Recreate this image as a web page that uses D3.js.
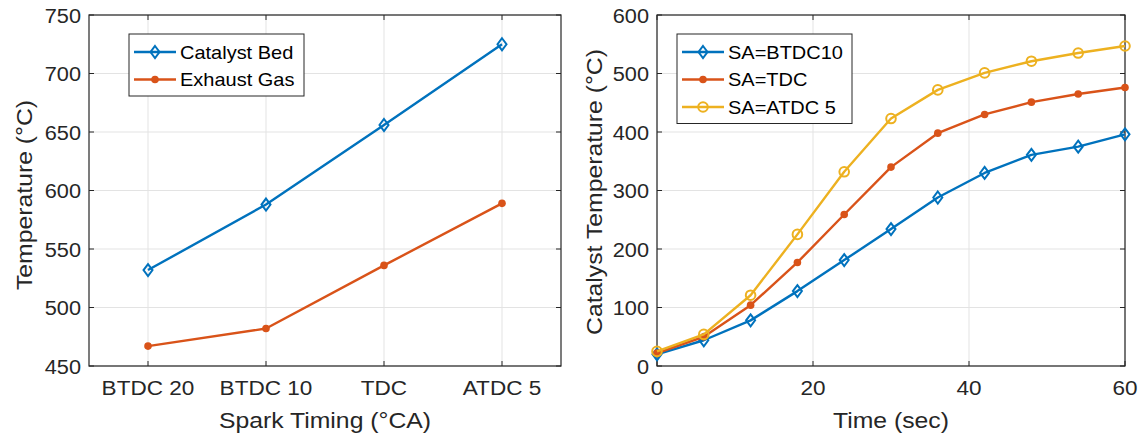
<!DOCTYPE html>
<html>
<head>
<meta charset="utf-8">
<script src="https://cdn.jsdelivr.net/npm/d3@7"></script>
<style>
  body { margin: 0; background: #fff; }
  svg { font-family: "Liberation Sans", Arial, sans-serif; }
</style>
</head>
<body>
<svg width="1147" height="439"></svg>
<script>
// left chart data
var timings = ["BTDC 20", "BTDC 10", "TDC", "ATDC 5"];
var catalystBed = [532, 588, 656, 725];
var exhaustGas = [467, 482, 536, 589];
var leftTicks = [450, 500, 550, 600, 650, 700, 750];

// right chart data
var times = [0, 6, 12, 18, 24, 30, 36, 42, 48, 54, 60];
var saBTDC10 = [20, 44, 78, 128, 181, 234, 288, 330, 361, 375, 396];
var saTDC = [22, 50, 104, 177, 259, 340, 398, 430, 451, 465, 476];
var saATDC5 = [25, 54, 121, 225, 332, 423, 472, 501, 521, 535, 547];
var rightYTicks = [0, 100, 200, 300, 400, 500, 600];
var rightXTicks = [0, 20, 40, 60];

var BLUE = "#0072BD", ORANGE = "#D95319", YELLOW = "#EDB120";
var LW = 2.4;
var svg = d3.select("svg");

// the picture's text is a bit wider than Liberation Sans, stretch it a little
function stretch(sel, k) {
    sel.each(function () {
        var w = this.getComputedTextLength();
        d3.select(this).attr("textLength", w * k).attr("lengthAdjust", "spacingAndGlyphs");
    });
    return sel;
}

function marker(g, type, color) {
    if (type == "diamond")
        g.append("path").attr("d", "M0,-6L4.5,0L0,6L-4.5,0Z")
            .attr("fill", "none").attr("stroke", color).attr("stroke-width", 2);
    else if (type == "dot") g.append("circle").attr("r", 3.8).attr("fill", color);
    else g.append("circle").attr("r", 4.8).attr("fill", "none").attr("stroke", color).attr("stroke-width", 2);
}

function frame(x0, x1, y0, y1, xScale, xTicks, yScale, yTicks, xLabelFn) {
    var g = svg.append("g");
    // grid
    g.selectAll(".gx").data(xTicks).enter().append("line")
        .attr("x1", xScale).attr("x2", xScale).attr("y1", y0).attr("y2", y1)
        .attr("stroke", "#e3e3e3").attr("stroke-width", 1);
    g.selectAll(".gy").data(yTicks).enter().append("line")
        .attr("y1", yScale).attr("y2", yScale).attr("x1", x0).attr("x2", x1)
        .attr("stroke", "#e3e3e3").attr("stroke-width", 1);
    // ticks inside, both sides
    g.selectAll(".tx").data(xTicks).enter().append("path")
        .attr("d", function (d) { var x = xScale(d); return "M" + x + "," + y1 + "v-5M" + x + "," + y0 + "v5"; })
        .attr("stroke", "#262626");
    g.selectAll(".ty").data(yTicks).enter().append("path")
        .attr("d", function (d) { var y = yScale(d); return "M" + x0 + "," + y + "h5M" + x1 + "," + y + "h-5"; })
        .attr("stroke", "#262626");
    g.append("rect").attr("x", x0).attr("y", y0).attr("width", x1 - x0).attr("height", y1 - y0)
        .attr("fill", "none").attr("stroke", "#262626").attr("stroke-width", 1.2);
    // tick labels
    stretch(g.selectAll(".lx").data(xTicks).enter().append("text")
        .attr("x", xScale).attr("y", y1 + 29).attr("text-anchor", "middle")
        .attr("font-size", 20.5).attr("fill", "#262626").text(xLabelFn), 1.1);
    stretch(g.selectAll(".ly").data(yTicks).enter().append("text")
        .attr("x", x0 - 8).attr("y", function (d) { return yScale(d) + 7.5; }).attr("text-anchor", "end")
        .attr("font-size", 20.5).attr("fill", "#262626").text(function (d) { return d; }), 1.06);
    return g;
}

function series(g, xScale, yScale, xs, ys, color, type) {
    var pts = xs.map(function (x, i) { return [xScale(x), yScale(ys[i])]; });
    g.append("path").attr("d", d3.line()(pts)).attr("fill", "none")
        .attr("stroke", color).attr("stroke-width", LW).attr("stroke-linejoin", "round");
    pts.forEach(function (p) {
        marker(g.append("g").attr("transform", "translate(" + p[0] + "," + p[1] + ")"), type, color);
    });
}

function legend(x, y, w, rows) {
    var g = svg.append("g").attr("transform", "translate(" + x + "," + y + ")");
    g.append("rect").attr("width", w).attr("height", rows.length * 27.5 + 7)
        .attr("fill", "#fff").attr("stroke", "#262626").attr("stroke-width", 1);
    rows.forEach(function (r, i) {
        var cy = 18 + i * 27.5;
        g.append("line").attr("x1", 5).attr("x2", 47).attr("y1", cy).attr("y2", cy)
            .attr("stroke", r.color).attr("stroke-width", LW);
        marker(g.append("g").attr("transform", "translate(26," + cy + ")"), r.type, r.color);
        stretch(g.append("text").attr("x", 51).attr("y", cy + 6.5).attr("font-size", 18.5)
            .attr("fill", "#000").text(r.name), 1.08);
    });
}

function axisLabel(x, y, rot, txt) {
    stretch(svg.append("text").attr("transform", "translate(" + x + "," + y + ") rotate(" + rot + ")")
        .attr("text-anchor", "middle").attr("font-size", 22.5).attr("fill", "#262626").text(txt), 1.1);
}

// ---------- left chart ----------
var lx0 = 89, lx1 = 561, ly0 = 15, ly1 = 366;
var xL = d3.scaleLinear().domain([0.5, 4.5]).range([lx0, lx1]);
var yL = d3.scaleLinear().domain([450, 750]).range([ly1, ly0]);
var gl = frame(lx0, lx1, ly0, ly1, xL, [1, 2, 3, 4], yL, leftTicks, function (d) { return timings[d - 1]; });
series(gl, xL, yL, [1, 2, 3, 4], catalystBed, BLUE, "diamond");
series(gl, xL, yL, [1, 2, 3, 4], exhaustGas, ORANGE, "dot");
axisLabel(32, 195, -90, "Temperature (°C)");
axisLabel((lx0 + lx1) / 2, 428, 0, "Spark Timing (°CA)");
legend(129, 34, 175, [
    { name: "Catalyst Bed", color: BLUE, type: "diamond" },
    { name: "Exhaust Gas", color: ORANGE, type: "dot" }
]);

// ---------- right chart ----------
var rx0 = 657, rx1 = 1125, ry0 = 15, ry1 = 366;
var xR = d3.scaleLinear().domain([0, 60]).range([rx0, rx1]);
var yR = d3.scaleLinear().domain([0, 600]).range([ry1, ry0]);
var gr = frame(rx0, rx1, ry0, ry1, xR, rightXTicks, yR, rightYTicks, function (d) { return d; });
series(gr, xR, yR, times, saBTDC10, BLUE, "diamond");
series(gr, xR, yR, times, saTDC, ORANGE, "dot");
series(gr, xR, yR, times, saATDC5, YELLOW, "ring");
axisLabel(602, 192, -90, "Catalyst Temperature (°C)");
axisLabel((rx0 + rx1) / 2, 428, 0, "Time (sec)");
legend(677, 34, 175, [
    { name: "SA=BTDC10", color: BLUE, type: "diamond" },
    { name: "SA=TDC", color: ORANGE, type: "dot" },
    { name: "SA=ATDC 5", color: YELLOW, type: "ring" }
]);
</script>
</body>
</html>
